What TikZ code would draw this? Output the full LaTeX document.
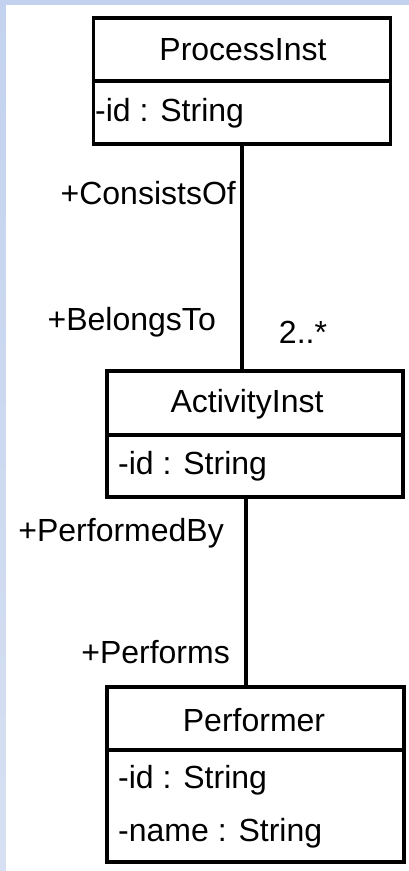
\documentclass[tikz,border=0pt]{standalone}
\usepackage{fontspec}
\setmainfont{Liberation Sans}
\definecolor{bgtop}{HTML}{C3D2EE}
\definecolor{bgbot}{HTML}{D6E0F2}
\begin{document}
\begin{tikzpicture}[x=1pt,y=-1pt,
  box/.style={draw=black, line width=3.5pt, fill=white, inner sep=0pt},
  sep/.style={draw=black, line width=3.5pt},
  conn/.style={draw=black, line width=3.5pt},
  title/.style={inner sep=0pt, font=\fontsize{32}{38}\selectfont},
  attr/.style={inner sep=0pt, anchor=west, font=\fontsize{32}{38}\selectfont},
  lbl/.style={inner sep=0pt, font=\fontsize{32}{38}\selectfont}]
\useasboundingbox (0,0) rectangle (409,871);
\shade[top color=bgtop, bottom color=bgbot] (0,0) rectangle (6,871);
\fill[bgtop] (0,0) rectangle (409,5);
\fill[white] (6,5) rectangle (409,871);
% ProcessInst
\node[box, minimum width=297pt, minimum height=126pt] (pi) at (242,81) {};
\draw[sep] (pi.west |- 0,81) -- (pi.east |- 0,81);
\node[title] (pit) at (243,50) {ProcessInst};
\node[attr] (pia) at (95,113) {-id : String};
% ActivityInst
\node[box, minimum width=296pt, minimum height=126pt] (ai) at (255,434) {};
\draw[sep] (ai.west |- 0,435) -- (ai.east |- 0,435);
\node[title] (ait) at (247,404) {ActivityInst};
\node[attr] (aia) at (118,466) {-id : String};
% Performer
\node[box, minimum width=297pt, minimum height=175pt] (pf) at (255.5,774.5) {};
\draw[sep] (pf.west |- 0,750) -- (pf.east |- 0,750);
\node[title] (pft) at (254,720) {Performer};
\node[attr] (pfa) at (118,780) {-id : String};
\node[attr] (pfb) at (118,833) {-name : String};
% connectors
\draw[conn] (pi.south) -- (pi.south |- ai.north);
\coordinate (c2) at ([xshift=-9pt]ai.south);
\draw[conn] (c2) -- (c2 |- pf.north);
% labels
\node[lbl, anchor=east] (l1) at (236,193) {+ConsistsOf};
\node[lbl, anchor=east] (l2) at (216,322) {+BelongsTo};
\node[lbl] (l3) at (303,332) {2..*};
\node[lbl, anchor=east] (l4) at (224,533) {+PerformedBy};
\node[lbl, anchor=east] (l5) at (230,652) {+Performs};
\end{tikzpicture}
\end{document}
